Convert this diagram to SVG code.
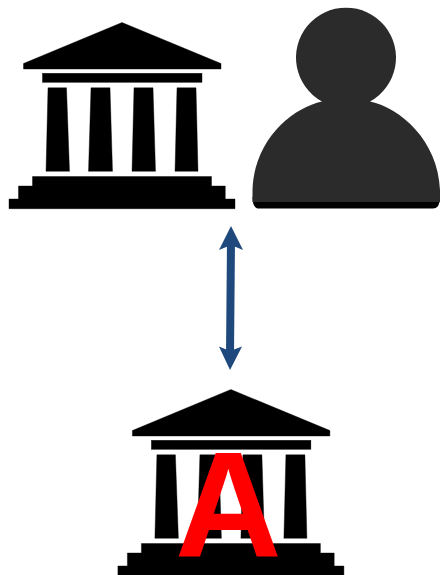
<svg xmlns="http://www.w3.org/2000/svg" width="440" height="575" viewBox="0 0 440 575">
<style>
.b{fill:#000;stroke:#000;stroke-width:.4}
.lbl{font-family:"Liberation Sans",Arial,sans-serif;font-weight:700;font-size:150px;fill:#f00}
</style>
<defs>
<g id="bank">
<path class="b" d="M122 22.500L221 63.500V69H23.500V63.500Z"/>
<rect class="b" x="42.500" y="73.300" width="159.500" height="9"/>
<path class="b" d="M48 87.800H66.500L69.500 171.300H46Z"/>
<path class="b" d="M91 87.800H110L112.500 171.300H88.500Z"/>
<path class="b" d="M134 87.800H153L155.500 171.300H132Z"/>
<path class="b" d="M177 87.800H196L198 171.300H175Z"/>
<path class="b" d="M32.500 176.500H211.500V186H225.300V199H235V208.700H9V199H18.500V186H32.500Z"/>
</g>
</defs>
<g id="bank-top"><use href="#bank"/></g>
<g id="person">
<path d="M252.500 197Q252.500 208.500 259 208.500H433Q440 208.500 440 197Z" fill="#000"/>
<path d="M252.500 202V190C254 140 292 108 322 101.500A50 50 0 1 1 370 101.500C400 108 438 140 440 190V202Z" fill="#2b2b2b"/>
</g>
<g id="connectors">
<line x1="231" y1="240" x2="230" y2="356" stroke="#1f497d" stroke-width="8"/>
<path d="M231 226L243 250L231 245L219 250Z" fill="#1f497d"/>
<path d="M230 370L219 346.500L230 351L242 346.500Z" fill="#1f497d"/>
</g>
<g id="bank-bottom"><use href="#bank" x="108.900" y="367"/>
<text class="lbl" transform="translate(228.300 555.700) scale(.985 1)" text-anchor="middle">A</text></g>
</svg>
